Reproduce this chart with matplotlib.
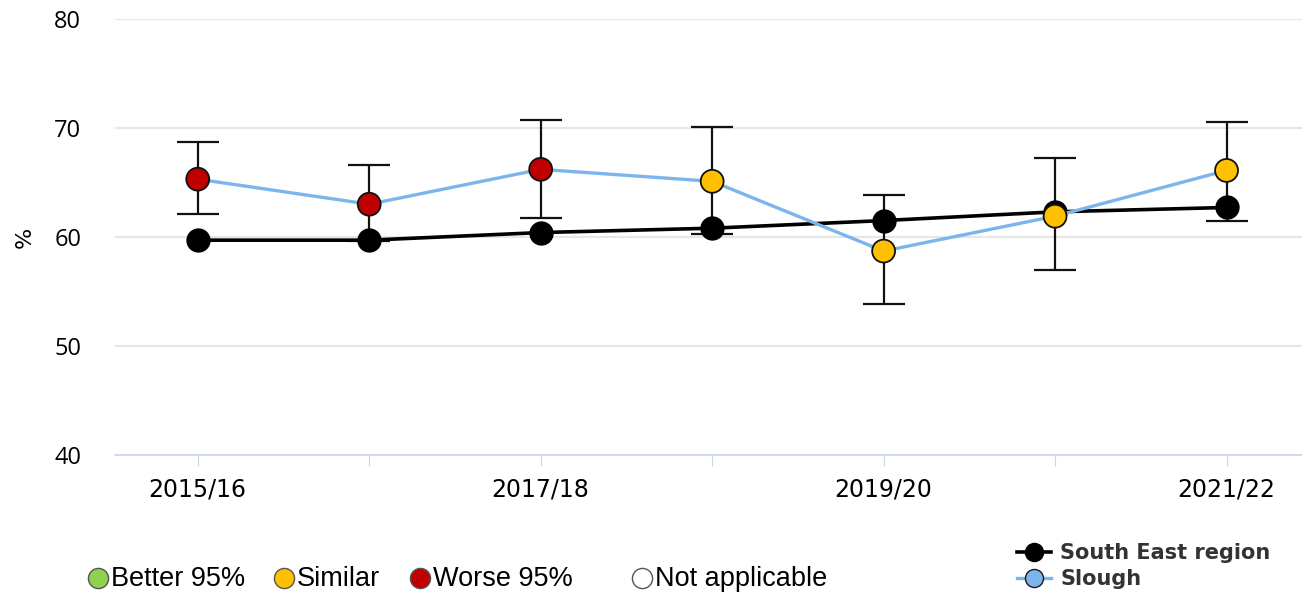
import matplotlib.pyplot as plt
from matplotlib.lines import Line2D

# Данные
years = ['2015/16', '2016/17', '2017/18', '2018/19', '2019/20', '2020/21', '2021/22']
tick_labels = ['2015/16', '', '2017/18', '', '2019/20', '', '2021/22']
slough = [65.3, 63.0, 66.2, 65.1, 58.7, 61.9, 66.1]
slough_upper = [68.7, 66.6, 70.7, 70.1, 63.8, 67.2, 70.5]
slough_lower = [62.1, 59.6, 61.7, 60.3, 53.8, 57.0, 61.5]
south_east = [59.7, 59.7, 60.4, 60.8, 61.5, 62.3, 62.7]
significance = ['Worse', 'Worse', 'Worse', 'Similar', 'Similar', 'Similar', 'Similar']

sig_labels = ['Better 95%', 'Similar', 'Worse 95%', 'Not applicable']
sig_colors = {'Better': '#92D050', 'Similar': '#FFC000', 'Worse': '#C00000', 'NA': '#FFFFFF'}

fig = plt.figure(figsize=(13.02, 5.93), dpi=100)
ax = fig.add_axes([0.088, 0.233, 0.912, 0.735])

x = list(range(len(years)))
yerr = [[s - l for s, l in zip(slough, slough_lower)],
        [u - s for s, u in zip(slough, slough_upper)]]

# Доверительные интервалы
ax.errorbar(x, slough, yerr=yerr, fmt='none', ecolor='#111111', elinewidth=1.6,
            capsize=15, capthick=1.6, zorder=2)

# Регион
ax.plot(x, south_east, color='black', linewidth=2.6, marker='o', markersize=16.5,
        markerfacecolor='black', markeredgecolor='black', zorder=3)

# Slough
ax.plot(x, slough, color='#7CB5EC', linewidth=2.4, zorder=4)
ax.scatter(x, slough, s=16.5 ** 2, c=[sig_colors[v] for v in significance],
           edgecolors='#111111', linewidths=1.3, zorder=5)

ax.set_ylim(40, 80)
ax.set_xlim(-0.485, 6.44)
ax.set_yticks([40, 50, 60, 70, 80])
ax.set_xticks(x)
ax.set_xticklabels(tick_labels, fontsize=17, family='DejaVu Sans')
for lab in ax.get_yticklabels():
    lab.set_fontsize(17)
    lab.set_family('Open Sans')

ax.grid(axis='y', color='#e6e6e6', linewidth=1.5)
ax.set_axisbelow(True)
for side in ['top', 'right', 'left']:
    ax.spines[side].set_visible(False)
ax.spines['bottom'].set_color('#ccd6eb')
ax.spines['bottom'].set_linewidth(1.2)
ax.tick_params(axis='x', length=8, color='#ccd6eb', pad=8)
ax.tick_params(axis='y', length=0, pad=24)
ax.set_ylabel('%', fontsize=16, labelpad=14)

# Легенда значимости (кружок + подпись)
W, H = 1302, 593
dot_x = [98, 284, 420, 642]
text_x = [111, 297, 433, 655]
for lbl, c, dx, tx in zip(sig_labels, ['Better', 'Similar', 'Worse', 'NA'], dot_x, text_x):
    fig.add_artist(Line2D([dx / W], [1 - 578 / H], transform=fig.transFigure, linestyle='none',
                          marker='o', markersize=14.5, markerfacecolor=sig_colors[c],
                          markeredgecolor='#555555', markeredgewidth=1))
    fig.text(tx / W, 1 - 579 / H, lbl, fontsize=19.5, family='Liberation Sans',
             va='center', ha='left')

# Легенда серий
series_handles = [
    Line2D([], [], color='black', linewidth=2.6, marker='o', markersize=13,
           markerfacecolor='black', markeredgecolor='black'),
    Line2D([], [], color='#7CB5EC', linewidth=2.4, marker='o', markersize=13,
           markerfacecolor='#7CB5EC', markeredgecolor='#1a1a1a'),
]
leg3 = fig.legend(series_handles, ['South East region', 'Slough'], frameon=False,
                  loc='center left', bbox_to_anchor=(0.767, 0.045), handlelength=1.6,
                  handletextpad=0.45, labelspacing=0.3,
                  prop={'family': 'DejaVu Sans', 'weight': 'bold', 'size': 15})
for t in leg3.get_texts():
    t.set_color('#333333')

plt.savefig('out.png', dpi=100)
